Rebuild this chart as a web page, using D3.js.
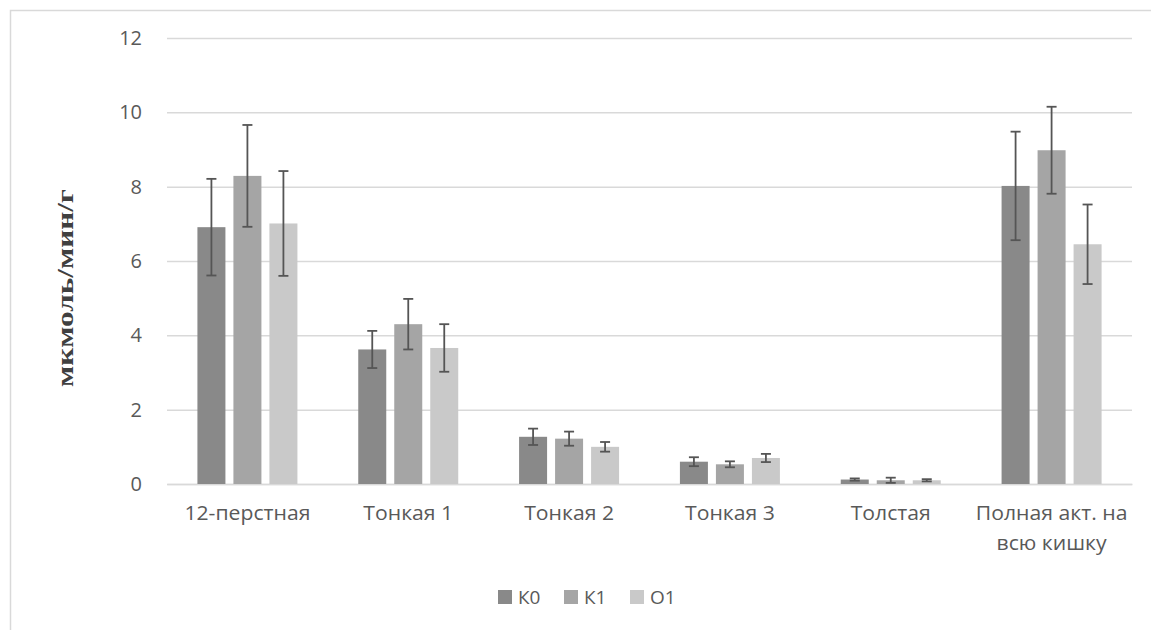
<!DOCTYPE html>
<html>
<head>
<meta charset="utf-8">
<script src="https://cdn.jsdelivr.net/npm/d3@7/dist/d3.min.js"></script>
<style>
  html, body { margin: 0; padding: 0; background: #fff; }
  svg { display: block; }
  text { font-family: "Open Sans", "DejaVu Sans", sans-serif; }
</style>
</head>
<body>
<svg id="chart" width="1151" height="630"></svg>
<script>
// Sections of the intestine
const categories = ["12-перстная", "Тонкая 1", "Тонкая 2", "Тонкая 3", "Толстая", "Полная акт. на всю кишку"];
const seriesNames = ["К0", "К1", "О1"];

// Mean activity, мкмоль/мин/г
const valuesK0 = [6.91, 3.62, 1.27, 0.60, 0.12, 8.02];
const valuesK1 = [8.29, 4.30, 1.22, 0.53, 0.10, 8.98];
const valuesO1 = [7.01, 3.66, 1.00, 0.70, 0.10, 6.45];

// Error bar half-widths
const errK0 = [1.30, 0.50, 0.22, 0.12, 0.03, 1.46];
const errK1 = [1.37, 0.68, 0.19, 0.08, 0.07, 1.17];
const errO1 = [1.41, 0.64, 0.13, 0.11, 0.03, 1.07];

const yTicks = [0, 2, 4, 6, 8, 10, 12];
const yTitle = "мкмоль/мин/г";
const colors = ["#898989", "#a5a5a5", "#c9c9c9"];

const svg = d3.select("#chart");

// outer chart frame
svg.append("rect")
  .attr("x", 10.5).attr("y", 10.5)
  .attr("width", 1200).attr("height", 700)
  .attr("fill", "none").attr("stroke", "#d9d9d9").attr("stroke-width", 1.5);

const plot = { left: 167, right: 1132, top: 38, bottom: 484 };

const x = d3.scaleBand().domain(categories).range([plot.left, plot.right]).padding(0);
const groupW = 100;
const xs = d3.scaleBand().domain(seriesNames)
  .range([(x.bandwidth() - groupW) / 2, (x.bandwidth() + groupW) / 2])
  .paddingInner(8 / 36).paddingOuter(0);
const y = d3.scaleLinear().domain([0, 12]).range([plot.bottom, plot.top]);

// grid lines and tick labels
const yAxis = d3.axisLeft(y).tickValues(yTicks).tickSize(-(plot.right - plot.left)).tickPadding(25);
const gy = svg.append("g").attr("transform", `translate(${plot.left},0)`).call(yAxis);
gy.select(".domain").remove();
gy.selectAll(".tick line").attr("stroke", "#d9d9d9").attr("stroke-width", 1.5);
gy.selectAll(".tick text")
  .attr("fill", "#595959").style("font-size", "20px")
  .style("font-family", "'Open Sans', 'DejaVu Sans', sans-serif");

// category axis
const xAxis = d3.axisBottom(x).tickSize(0).tickPadding(27);
const gx = svg.append("g").attr("transform", `translate(0,${plot.bottom})`).call(xAxis);
gx.select(".domain").attr("stroke", "#d9d9d9").attr("stroke-width", 1.5);
gx.selectAll(".tick text")
  .attr("fill", "#595959").style("font-size", "20px")
  .style("font-family", "'Open Sans', 'DejaVu Sans', sans-serif")
  .attr("transform", "scale(1.06,1)")
  .each(function(d) {
    // wrap long labels onto extra lines
    const t = d3.select(this);
    const words = d.split(" ");
    const maxW = (x.bandwidth() - 4) / 1.06;
    t.text(null);
    let line = [];
    let tspan = t.append("tspan").attr("x", 0).attr("dy", "0.45em");
    words.forEach(w => {
      line.push(w);
      tspan.text(line.join(" "));
      if (tspan.node().getComputedTextLength() > maxW && line.length > 1) {
        line.pop();
        tspan.text(line.join(" "));
        line = [w];
        tspan = t.append("tspan").attr("x", 0).attr("dy", "30px").text(w);
      }
    });
  });

// bars
const series = [
  { name: seriesNames[0], values: valuesK0, errs: errK0, color: colors[0] },
  { name: seriesNames[1], values: valuesK1, errs: errK1, color: colors[1] },
  { name: seriesNames[2], values: valuesO1, errs: errO1, color: colors[2] }
];

const groups = svg.append("g").selectAll("g")
  .data(categories)
  .join("g")
  .attr("transform", d => `translate(${x(d)},0)`);

const cells = groups.selectAll("g")
  .data((c, i) => series.map(s => ({ name: s.name, v: s.values[i], e: s.errs[i], color: s.color })))
  .join("g");

cells.append("rect")
  .attr("x", d => xs(d.name))
  .attr("y", d => y(d.v))
  .attr("width", xs.bandwidth())
  .attr("height", d => y(0) - y(d.v))
  .attr("fill", d => d.color);

// error bars
const capHalf = 5;
const errColor = "#555555";
const cx = d => xs(d.name) + xs.bandwidth() / 2;
cells.append("line")
  .attr("x1", cx).attr("x2", cx)
  .attr("y1", d => y(d.v + d.e))
  .attr("y2", d => y(d.v - d.e))
  .attr("stroke", errColor).attr("stroke-width", 1.8);
cells.append("line")
  .attr("x1", d => cx(d) - capHalf)
  .attr("x2", d => cx(d) + capHalf)
  .attr("y1", d => y(d.v + d.e)).attr("y2", d => y(d.v + d.e))
  .attr("stroke", errColor).attr("stroke-width", 1.8);
cells.append("line")
  .attr("x1", d => cx(d) - capHalf)
  .attr("x2", d => cx(d) + capHalf)
  .attr("y1", d => y(d.v - d.e)).attr("y2", d => y(d.v - d.e))
  .attr("stroke", errColor).attr("stroke-width", 1.8);

// y axis title
svg.append("text")
  .attr("transform", "translate(73,288) rotate(-90) scale(1.3,1)")
  .attr("text-anchor", "middle")
  .style("font-family", "'Liberation Serif', 'Times New Roman', serif")
  .style("font-weight", "bold")
  .style("font-size", "24px")
  .attr("fill", "#404040")
  .text(yTitle);

// legend
const legendX = [498, 564, 630];
const legend = svg.append("g").selectAll("g")
  .data(series)
  .join("g")
  .attr("transform", (d, i) => `translate(${legendX[i]},597)`);
legend.append("rect")
  .attr("x", 0).attr("y", -7).attr("width", 14).attr("height", 14)
  .attr("fill", d => d.color);
legend.append("text")
  .attr("x", 20).attr("y", 0).attr("dy", "0.36em")
  .attr("fill", "#595959")
  .style("font-size", "19px")
  .text(d => d.name);
</script>
</body>
</html>
